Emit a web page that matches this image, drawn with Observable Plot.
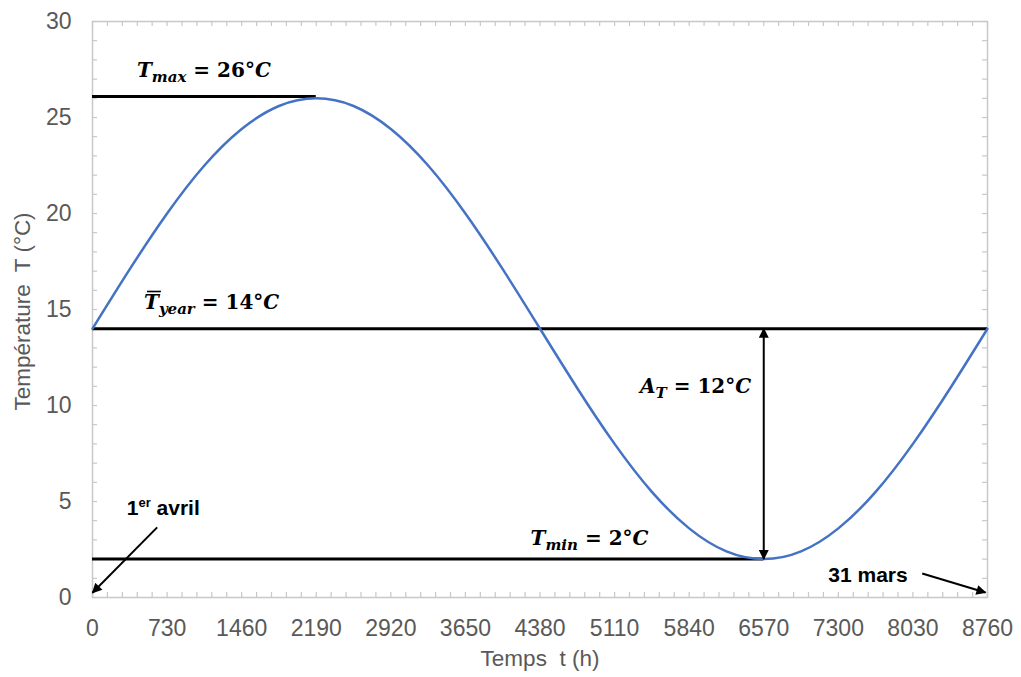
<!DOCTYPE html>
<html><head><meta charset="utf-8">
<script src="https://cdn.jsdelivr.net/npm/d3@7"></script>
<script src="https://cdn.jsdelivr.net/npm/@observablehq/plot@0.6"></script>
<style>html,body{margin:0;padding:0;background:#fff;overflow:hidden} svg{display:block}</style>
</head><body><div id="chart"></div>
<script>
// Curve values (every 365 h)
const hours = [0,365,730,1095,1460,1825,2190,2555,2920,3285,3650,4015,4380,4745,5110,5475,5840,6205,6570,6935,7300,7665,8030,8395,8760];
const temps = [14,17.1,20,22.5,24.4,25.6,26,25.6,24.4,22.5,20,17.1,14,10.9,8,5.5,3.6,2.4,2,2.4,3.6,5.5,8,10.9,14];
const xTicks = [0,730,1460,2190,2920,3650,4380,5110,5840,6570,7300,8030,8760];
const yTicks = [0,5,10,15,20,25,30];
const xMinor = d3.range(0, 8761, 146);
const yMinor = d3.range(0, 31, 1);
const refValues = [26.1, 14, 2];
const refEnds = [2190, 8760, 6570];
const ampX = 6570, ampTop = 14, ampBottom = 2;
const arrowFrom = [[633, 3.65], [8121, 1.25]];
const arrowTo = [[0, 0.25], [8740, 0.26]];
const arrowLabels = ["1er avril", "31 mars"];
const arrowLabelPos = [[340, 4.25], [7207, 0.78]];
const mathLabelPos = [[440, 27.1], [509, 15.0], [5364, 10.6], [4293, 2.7]];

const curve = hours.map((h, i) => ({h, t: temps[i]}));
const refs = refValues.map((v, i) => ({v, end: refEnds[i]}));
const arrows = arrowFrom.map((f, i) => ({x1: f[0], y1: f[1], x2: arrowTo[i][0], y2: arrowTo[i][1]}));

const W = 1021, H = 677, ML = 92, MR = 34, MT = 21, MB = 80;
const plotH = H - MT - MB, plotW = W - ML - MR;
const grid = "#c8c8c8";
const plot = Plot.plot({
  width: W, height: H,
  marginLeft: ML, marginRight: MR, marginTop: MT, marginBottom: MB,
  style: {fontFamily: "'Liberation Sans', Arial, sans-serif", background: "#fff"},
  x: {domain: [0, 8760]},
  y: {domain: [0, 30]},
  marks: [
    Plot.frame({stroke: grid, strokeWidth: 1.5}),
    Plot.ruleX(xMinor, {insetTop: plotH - 5, stroke: grid, strokeWidth: 1.2}),
    Plot.ruleX(xMinor, {insetBottom: plotH - 5, stroke: grid, strokeWidth: 1.2}),
    Plot.ruleY(yMinor, {insetRight: plotW - 5, stroke: grid, strokeWidth: 1.2}),
    Plot.ruleY(yMinor, {insetLeft: plotW - 5, stroke: grid, strokeWidth: 1.2}),
    Plot.axisX(xTicks, {tickSize: 0, tickPadding: 22, label: null, fontSize: 23, fill: "#595959", tickFormat: d => String(d)}),
    Plot.axisY(yTicks, {tickSize: 0, tickPadding: 21, label: null, fontSize: 23, fill: "#595959"}),
    Plot.text(["Temps  t (h)"], {frameAnchor: "bottom", textAnchor: "middle", dy: 68, dx: 0, fontSize: 22.5, fill: "#595959"}),
    Plot.text(["Température  T (°C)"], {frameAnchor: "left", textAnchor: "middle", rotate: -90, dx: -70, dy: 2, fontSize: 22.5, fill: "#595959"}),
    Plot.ruleY(refs, {y: "v", x1: 0, x2: "end", stroke: "#000", strokeWidth: 3}),
    Plot.line(curve, {x: "h", y: "t", stroke: "#4472c4", strokeWidth: 2.5, curve: "natural"}),
    Plot.link([{x: ampX, y1: ampTop, y2: ampBottom}], {x1: "x", x2: "x", y1: "y1", y2: "y2", stroke: "#000", strokeWidth: 2, className: "dbl"}),
    Plot.link(arrows, {x1: "x1", y1: "y1", x2: "x2", y2: "y2", stroke: "#000", strokeWidth: 2, className: "sgl"})
  ]
});
document.getElementById("chart").appendChild(plot);

const svg = d3.select(plot);
const defs = svg.insert("defs", ":first-child");
defs.append("marker").attr("id", "ah").attr("viewBox", "0 0 10 10")
  .attr("refX", 9).attr("refY", 5).attr("markerWidth", 11).attr("markerHeight", 10)
  .attr("markerUnits", "userSpaceOnUse").attr("orient", "auto-start-reverse")
  .append("path").attr("d", "M0,0L10,5L0,10z").attr("fill", "#000");
svg.selectAll(".dbl path").attr("marker-start", "url(#ah)").attr("marker-end", "url(#ah)");
svg.selectAll(".sgl path").attr("marker-end", "url(#ah)");

const sx = plot.scale("x"), sy = plot.scale("y");
const ann = svg.append("g").attr("text-anchor", "start");
// Math labels
const mathFont = "'DejaVu Serif', 'Liberation Serif', serif";
const mathDefs = [
  {main: "T", sub: "max", rest: " = 26°", unit: "C", bar: false},
  {main: "T", sub: "year", rest: " = 14°", unit: "C", bar: true},
  {main: "A", sub: "T", rest: " = 12°", unit: "C", bar: false},
  {main: "T", sub: "min", rest: " = 2°", unit: "C", bar: false}
];
mathDefs.forEach((m, i) => {
  const [px, py] = mathLabelPos[i];
  const x0 = sx.apply(px), y0 = sy.apply(py);
  const t = ann.append("text").attr("x", x0).attr("y", y0)
    .attr("font-family", mathFont).attr("font-weight", "bold").attr("font-size", 20).attr("fill", "#000");
  t.append("tspan").attr("font-style", "italic").text(m.main);
  t.append("tspan").attr("font-style", "italic").attr("font-size", 15).attr("dy", 5).text(m.sub);
  t.append("tspan").attr("dy", -5).text(m.rest);
  t.append("tspan").attr("font-style", "italic").text(m.unit);
  if (m.bar) {
    const n = t.node();
    const a = n.getStartPositionOfChar(0), b = n.getEndPositionOfChar(0);
    ann.append("line").attr("x1", a.x + 3).attr("x2", b.x + 2)
      .attr("y1", y0 - 17.5).attr("y2", y0 - 17.5)
      .attr("stroke", "#000").attr("stroke-width", 1.6);
  }
});
// Arrow labels
arrowLabels.forEach((lab, i) => {
  const [px, py] = arrowLabelPos[i];
  const t = ann.append("text").attr("x", sx.apply(px)).attr("y", sy.apply(py))
    .attr("font-family", "'Liberation Sans', Arial, sans-serif").attr("font-weight", "bold")
    .attr("font-size", 21).attr("fill", "#000");
  if (lab.startsWith("1er")) {
    t.append("tspan").text("1");
    t.append("tspan").attr("font-size", 13).attr("dy", -8).text("er");
    t.append("tspan").attr("dy", 8).text(" avril");
  } else {
    t.text(lab);
  }
});
</script>
</body></html>
